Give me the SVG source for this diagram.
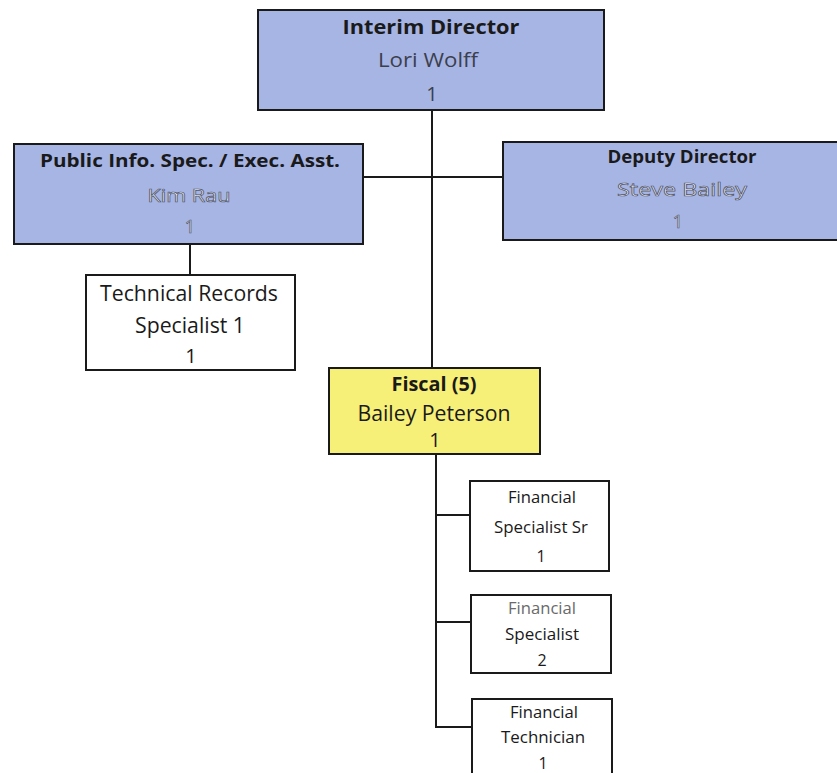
<svg xmlns="http://www.w3.org/2000/svg" width="837" height="773" viewBox="0 0 837 773">
  <style>
    .box { stroke: #1a1a1a; stroke-width: 2; }
    .blue { fill: #a7b5e5; }
    .yellow { fill: #f6ef78; }
    .white { fill: #ffffff; }
    .line { stroke: #1a1a1a; stroke-width: 2; fill: none; }
    text { font-family: "Open Sans", "Liberation Sans", sans-serif; text-anchor: middle; fill: #1a1a1a; }
    .b { font-weight: bold; }
    .faded { fill: #eceef6; stroke: #4f5468; stroke-width: 0.7; }
    .soft { fill: #3c3f4c; }
    .grey { fill: #6a6a6a; }
  </style>
  <rect width="837" height="773" fill="#ffffff"/>

  <g id="connectors">
    <path class="line" d="M432 110 V368"/>
    <path class="line" d="M363 177 H503"/>
    <path class="line" d="M190 244 V275"/>
    <path class="line" d="M436 454 V727 H472"/>
    <path class="line" d="M436 515 H470"/>
    <path class="line" d="M436 622 H471"/>
  </g>

  <g id="interim-director">
    <rect class="box blue" x="258" y="10" width="346" height="100"/>
    <text class="b" x="431" y="34" font-size="20" textLength="177" lengthAdjust="spacingAndGlyphs">Interim Director</text>
    <text class="soft" x="428" y="67" font-size="20" textLength="100" lengthAdjust="spacingAndGlyphs">Lori Wolff</text>
    <text class="soft" x="432" y="101" font-size="20">1</text>
  </g>

  <g id="public-info">
    <rect class="box blue" x="14" y="144" width="349" height="100"/>
    <text class="b" x="190" y="167" font-size="18" textLength="300" lengthAdjust="spacingAndGlyphs">Public Info. Spec. / Exec. Asst.</text>
    <text class="faded" x="189" y="202" font-size="18" textLength="83" lengthAdjust="spacingAndGlyphs">Kim Rau</text>
    <text class="faded" x="190" y="233" font-size="18">1</text>
  </g>

  <g id="deputy-director">
    <rect class="box blue" x="503" y="142" width="360" height="98"/>
    <text class="b" x="682" y="163" font-size="18" textLength="149" lengthAdjust="spacingAndGlyphs">Deputy Director</text>
    <text class="faded" x="682" y="196" font-size="18" textLength="130" lengthAdjust="spacingAndGlyphs">Steve Bailey</text>
    <text class="faded" x="678" y="228" font-size="18">1</text>
  </g>

  <g id="technical-records">
    <rect class="box white" x="86" y="275" width="209" height="95"/>
    <text x="189" y="301" font-size="21" textLength="178" lengthAdjust="spacingAndGlyphs">Technical Records</text>
    <text x="190" y="333" font-size="21" textLength="110" lengthAdjust="spacingAndGlyphs">Specialist 1</text>
    <text x="191" y="363" font-size="20">1</text>
  </g>

  <g id="fiscal">
    <rect class="box yellow" x="329" y="368" width="211" height="86"/>
    <text class="b" x="434" y="391" font-size="20" textLength="85" lengthAdjust="spacingAndGlyphs">Fiscal (5)</text>
    <text x="434" y="421" font-size="21" textLength="153" lengthAdjust="spacingAndGlyphs">Bailey Peterson</text>
    <text x="435" y="447" font-size="20">1</text>
  </g>

  <g id="financial-specialist-sr">
    <rect class="box white" x="470" y="481" width="139" height="90"/>
    <text x="542" y="503" font-size="16" textLength="68" lengthAdjust="spacingAndGlyphs">Financial</text>
    <text x="541" y="533" font-size="16" textLength="94" lengthAdjust="spacingAndGlyphs">Specialist Sr</text>
    <text x="541" y="562" font-size="16">1</text>
  </g>

  <g id="financial-specialist">
    <rect class="box white" x="471" y="595" width="140" height="78"/>
    <text class="grey" x="542" y="614" font-size="16" textLength="68" lengthAdjust="spacingAndGlyphs">Financial</text>
    <text x="542" y="640" font-size="16" textLength="74" lengthAdjust="spacingAndGlyphs">Specialist</text>
    <text x="542" y="666" font-size="16">2</text>
  </g>

  <g id="financial-technician">
    <rect class="box white" x="472" y="699" width="140" height="90"/>
    <text x="544" y="718" font-size="16" textLength="68" lengthAdjust="spacingAndGlyphs">Financial</text>
    <text x="543" y="743" font-size="16" textLength="84" lengthAdjust="spacingAndGlyphs">Technician</text>
    <text x="543" y="769" font-size="16">1</text>
  </g>
</svg>
